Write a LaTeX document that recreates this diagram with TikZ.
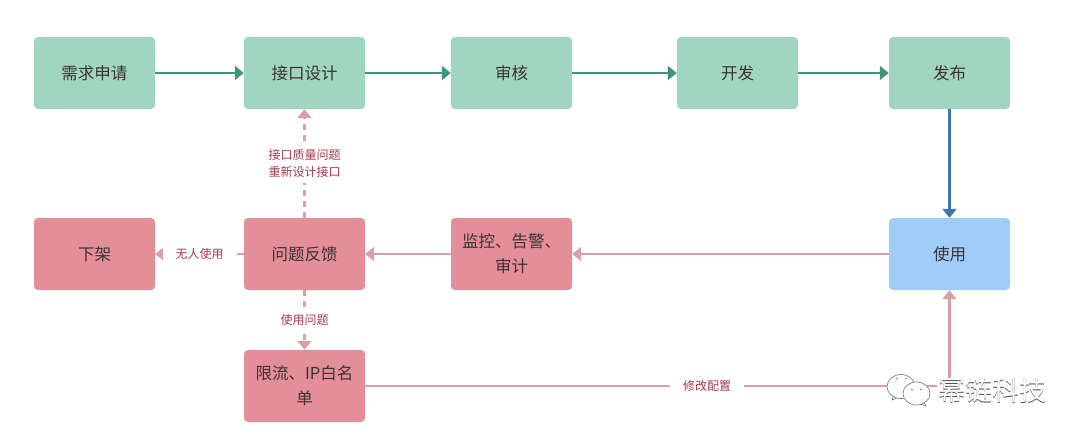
\documentclass[tikz,border=0pt]{standalone}
\usepackage{fontspec}
\setmainfont{Noto Sans CJK SC}
\usetikzlibrary{arrows.meta,positioning}
\definecolor{boxgreen}{HTML}{A0D5C1}
\definecolor{boxred}{HTML}{E38E98}
\definecolor{boxblue}{HTML}{A0CDF8}
\definecolor{lnkgreen}{HTML}{3F9575}
\definecolor{lnkblue}{HTML}{3B78AE}
\definecolor{lnkred}{HTML}{DBA0A7}
\definecolor{lbl}{HTML}{A83A4C}
\definecolor{txt}{HTML}{3C3234}
\tikzset{
  x=1pt,y=-1pt,
  basebox/.style={minimum width=121pt,minimum height=72pt,rounded corners=4pt,inner sep=3pt,align=center,text width=114pt,text=txt,font=\fontsize{16.5}{25}\selectfont},
  gbox/.style={basebox,fill=boxgreen},
  rbox/.style={basebox,fill=boxred},
  bbox/.style={basebox,fill=boxblue},
  tipp/.style={-{Triangle[width=14pt,length=9pt]}},
  glink/.style={tipp,draw=lnkgreen,line width=2.4pt},
  blink/.style={tipp,draw=lnkblue,line width=2.4pt},
  rlink/.style={tipp,draw=lnkred,line width=2.4pt},
  rdash/.style={rlink,dash pattern=on 6pt off 5pt},
  lab/.style={fill=white,text=lbl,font=\fontsize{12}{17}\selectfont,align=center,inner xsep=8pt,inner ysep=5pt},
  widelab/.style={lab,inner xsep=13pt},
  wechat/.style={draw=black!55,fill=white,line width=.6pt},
  wmark/.style={font=\fontsize{27}{27}\selectfont,inner sep=0pt},
}
\begin{document}
\begin{tikzpicture}
\useasboundingbox (0,0) rectangle (1080,439);
\node[gbox] (req) at (94.5,73) {需求申请};
\node[gbox] (api) at (304.5,73) {接口设计};
\node[gbox] (rev) at (511.5,73) {审核};
\node[gbox] (dev) at (737.5,73) {开发};
\node[gbox] (pub) at (949.5,73) {发布};
\node[rbox] (off) at (94.5,254) {下架};
\node[rbox] (fb) at (304.5,254) {问题反馈};
\node[rbox] (mon) at (511.5,254) {监控、告警、\\审计};
\node[bbox] (use) at (949.5,254) {使用};
\node[rbox] (lim) at (304.5,386) {限流、IP白名\\单};
\coordinate (corner) at (949.5,386);
\draw[glink] (req) -- (api);
\draw[glink] (api) -- (rev);
\draw[glink] (rev) -- (dev);
\draw[glink] (dev) -- (pub);
\draw[blink] (pub) -- (use);
\draw[rlink] (use) -- (mon);
\draw[rlink] (mon) -- (fb);
\draw[rdash] (fb) -- node[lab,pos=.5]{接口质量问题\\重新设计接口} (api);
\draw[rlink] (fb) -- node[widelab,pos=.5]{无人使用} (off);
\draw[rdash] (fb) -- node[lab,pos=.5]{使用问题} (lim);
\draw[rlink] (lim) -- node[widelab,pos=.585]{修改配置} (corner) -- (use);
% watermark
\fill[white] (937,378) rectangle (1047,405);
\draw[wechat] (894,394) -- (892,400) -- (901,396) -- cycle;
\draw[wechat] (901,386.5) ellipse (14pt and 12pt);
\draw[wechat] (923,400) -- (926,406) -- (917,403) -- cycle;
\draw[wechat] (916.5,393.5) ellipse (13.5pt and 11.5pt);
\fill[black!55] (897,378.5) circle (.8pt) (906,378.5) circle (.8pt) (912,389.5) circle (.8pt) (921,389.5) circle (.8pt);
\node[wmark,anchor=west] (wm) at (938,391) {\rlap{\raisebox{-.7pt}{\kern.7pt\textcolor{black!70}{幂链科技}}}\textcolor{white}{幂链科技}};
\end{tikzpicture}
\end{document}
